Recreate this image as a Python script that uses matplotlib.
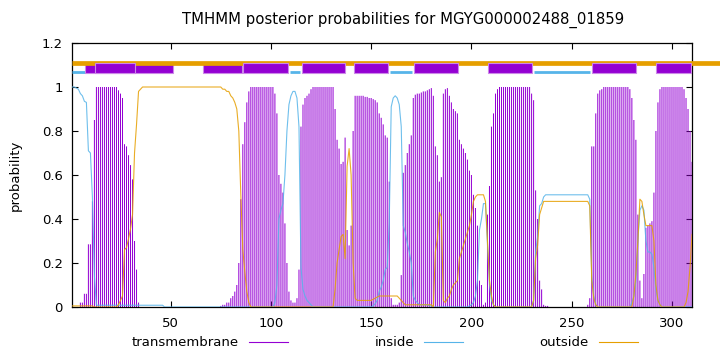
import matplotlib
matplotlib.use("Agg")
import matplotlib.pyplot as plt
from matplotlib.patches import Rectangle
from matplotlib.lines import Line2D

title = "TMHMM posterior probabilities for MGYG000002488_01859"
residues = list(range(1, 311))

# posterior probabilities per residue
transmembrane = [
    0, 0, 0, 0, 0.02, 0.02, 0.06, 0.06, 0.285, 0.285,
    0.48, 0.85, 1, 1, 1, 1, 1, 1, 1, 1,
    1, 1, 1, 0.985, 0.97, 0.95, 0.74, 0.73, 0.69, 0.645,
    0.58, 0.30, 0.17, 0.02, 0, 0, 0, 0, 0, 0,
    0, 0, 0, 0, 0, 0, 0, 0, 0, 0,
    0, 0, 0, 0, 0, 0, 0, 0, 0, 0,
    0, 0, 0, 0, 0, 0, 0, 0, 0, 0,
    0, 0, 0, 0, 0.005, 0.01, 0.01, 0.02, 0.02, 0.04,
    0.05, 0.07, 0.1, 0.2, 0.49, 0.74, 0.84, 0.93, 0.98, 1,
    1, 1, 1, 1, 1, 1, 1, 1, 1, 1,
    1, 0.97, 0.88, 0.6, 0.56, 0.52, 0.38, 0.2, 0.07, 0.03,
    0.02, 0.02, 0.04, 0.17, 0.82, 0.92, 0.95, 0.96, 0.97, 0.99,
    1, 1, 1, 1, 1, 1, 1, 1, 1, 1,
    1, 0.9, 0.76, 0.72, 0.65, 0.66, 0.77, 0.35, 0.28, 0.37,
    0.8, 0.96, 0.96, 0.96, 0.96, 0.96, 0.955, 0.955, 0.95, 0.95,
    0.945, 0.94, 0.93, 0.88, 0.86, 0.83, 0.78, 0.77, 0.57, 0.04,
    0.01, 0.01, 0.01, 0.02, 0.145, 0.61, 0.645, 0.70, 0.74, 0.78,
    0.95, 0.965, 0.97, 0.97, 0.975, 0.98, 0.98, 0.985, 0.99, 0.995,
    0.96, 0.73, 0.69, 0.57, 0.59, 0.97, 0.99, 0.995, 0.96, 0.93,
    0.9, 0.89, 0.88, 0.76, 0.74, 0.72, 0.7, 0.67, 0.62, 0.6,
    0.51, 0.45, 0.37, 0.12, 0.1, 0.01, 0.02, 0.42, 0.55, 0.82,
    0.88, 0.97, 0.99, 1, 1, 1, 1, 1, 1, 1,
    1, 1, 1, 1, 1, 1, 1, 1, 1, 0.97,
    0.94, 0.53, 0.4, 0.12, 0.08, 0.01, 0.005, 0.005, 0, 0,
    0, 0, 0, 0, 0, 0, 0, 0, 0, 0,
    0, 0, 0, 0, 0, 0, 0, 0.01, 0.04, 0.73,
    0.73, 0.88, 0.97, 0.985, 0.99, 1, 1, 1, 1, 1,
    1, 1, 1, 1, 1, 1, 1, 1, 0.99, 0.95,
    0.85, 0.76, 0.42, 0.12, 0.04, 0.15, 0.36, 0.37, 0.38, 0.39,
    0.52, 0.8, 0.93, 0.99, 1, 1, 1, 1, 1, 1,
    1, 1, 1, 1, 1, 0.99, 0.95, 0.9, 0.8, 0.66,
]

inside = [
    1, 1, 0.995, 0.99, 0.97, 0.96, 0.935, 0.93, 0.71, 0.70,
    0.5, 0.14, 0.008, 0.008, 0.008, 0.008, 0.008, 0.008, 0.008, 0.008,
    0.008, 0.008, 0.008, 0.008, 0.008, 0.008, 0.008, 0.008, 0.008, 0.008,
    0.008, 0.008, 0.008, 0.008, 0.008, 0.008, 0.008, 0.008, 0.008, 0.008,
    0.008, 0.008, 0.008, 0.008, 0.008, 0.008, 0, 0, 0, 0,
    0, 0, 0, 0, 0, 0, 0, 0, 0, 0,
    0, 0, 0, 0, 0, 0, 0, 0, 0, 0,
    0, 0, 0, 0, 0, 0, 0, 0, 0, 0,
    0, 0, 0, 0, 0, 0, 0, 0, 0, 0,
    0, 0, 0, 0, 0, 0, 0, 0, 0, 0,
    0, 0.02, 0.1, 0.4, 0.44, 0.47, 0.6, 0.8, 0.92, 0.96,
    0.98, 0.98, 0.95, 0.82, 0.18, 0.08, 0.05, 0.03, 0.02, 0.01,
    0, 0, 0, 0, 0, 0, 0, 0, 0, 0,
    0, 0, 0, 0, 0, 0, 0, 0, 0, 0,
    0, 0, 0, 0, 0, 0, 0, 0, 0, 0,
    0.005, 0.015, 0.03, 0.07, 0.09, 0.12, 0.17, 0.18, 0.38, 0.91,
    0.95, 0.96, 0.95, 0.92, 0.82, 0.37, 0.34, 0.29, 0.25, 0.2,
    0.05, 0.03, 0.02, 0.01, 0.01, 0.01, 0.01, 0.01, 0.005, 0.005,
    0, 0, 0, 0, 0, 0, 0, 0, 0, 0,
    0, 0, 0, 0, 0, 0, 0, 0, 0.005, 0.01,
    0.02, 0.05, 0.12, 0.35, 0.4, 0.47, 0.47, 0.28, 0.1, 0.03,
    0.01, 0, 0, 0, 0, 0, 0, 0, 0, 0,
    0, 0, 0, 0, 0, 0, 0, 0, 0, 0,
    0.03, 0.25, 0.32, 0.46, 0.47, 0.5, 0.51, 0.51, 0.51, 0.51,
    0.51, 0.51, 0.51, 0.51, 0.51, 0.51, 0.51, 0.51, 0.51, 0.51,
    0.51, 0.51, 0.51, 0.51, 0.51, 0.51, 0.51, 0.51, 0.49, 0.14,
    0.05, 0.01, 0, 0, 0, 0, 0, 0, 0, 0,
    0, 0, 0, 0, 0, 0, 0, 0, 0, 0.02,
    0.05, 0.12, 0.3, 0.44, 0.46, 0.44, 0.3, 0.25, 0.25, 0.24,
    0.18, 0.08, 0.03, 0.01, 0, 0, 0, 0, 0, 0,
    0, 0, 0, 0, 0, 0, 0, 0, 0, 0,
]

outside = [
    0.005, 0.005, 0.005, 0.005, 0.005, 0.005, 0.005, 0.005, 0.005, 0.005,
    0.005, 0, 0, 0, 0, 0, 0, 0, 0, 0,
    0, 0, 0, 0.01, 0.03, 0.05, 0.26, 0.27, 0.31, 0.355,
    0.42, 0.7, 0.83, 0.98, 0.99, 1, 1, 1, 1, 1,
    1, 1, 1, 1, 1, 1, 1, 1, 1, 1,
    1, 1, 1, 1, 1, 1, 1, 1, 1, 1,
    1, 1, 1, 1, 1, 1, 1, 1, 1, 1,
    1, 1, 1, 1, 1, 0.99, 0.99, 0.98, 0.98, 0.96,
    0.95, 0.93, 0.9, 0.8, 0.51, 0.26, 0.16, 0.07, 0.02, 0,
    0, 0, 0, 0, 0, 0, 0, 0, 0, 0,
    0, 0, 0, 0, 0, 0, 0, 0, 0, 0,
    0, 0, 0, 0, 0, 0, 0, 0, 0, 0,
    0, 0, 0, 0, 0, 0, 0, 0, 0, 0,
    0, 0.08, 0.2, 0.26, 0.32, 0.33, 0.22, 0.64, 0.72, 0.6,
    0.2, 0.04, 0.03, 0.03, 0.03, 0.03, 0.03, 0.03, 0.03, 0.03,
    0.035, 0.04, 0.045, 0.05, 0.05, 0.05, 0.05, 0.05, 0.05, 0.05,
    0.05, 0.05, 0.05, 0.04, 0.03, 0.02, 0.01, 0.01, 0.01, 0.01,
    0.01, 0.01, 0.01, 0.01, 0.01, 0.01, 0.01, 0.01, 0.01, 0.01,
    0, 0.25, 0.31, 0.43, 0.41, 0.03, 0.02, 0.04, 0.05, 0.08,
    0.1, 0.11, 0.12, 0.22, 0.25, 0.28, 0.31, 0.34, 0.37, 0.42,
    0.48, 0.5, 0.51, 0.51, 0.51, 0.51, 0.48, 0.3, 0.12, 0.05,
    0.01, 0, 0, 0, 0, 0, 0, 0, 0, 0,
    0, 0, 0, 0, 0, 0, 0, 0, 0, 0,
    0.03, 0.22, 0.28, 0.42, 0.45, 0.48, 0.48, 0.48, 0.48, 0.48,
    0.48, 0.48, 0.48, 0.48, 0.48, 0.48, 0.48, 0.48, 0.48, 0.48,
    0.48, 0.48, 0.48, 0.48, 0.48, 0.48, 0.48, 0.48, 0.46, 0.12,
    0.04, 0.01, 0, 0, 0, 0, 0, 0, 0, 0,
    0, 0, 0, 0, 0, 0, 0, 0, 0, 0,
    0.05, 0.15, 0.3, 0.49, 0.48, 0.42, 0.37, 0.37, 0.37, 0.37,
    0.3, 0.1, 0.03, 0.01, 0, 0, 0, 0, 0, 0,
    0, 0, 0, 0, 0, 0, 0.02, 0.07, 0.18, 0.33,
]

# topology bars along the top
tm_boxes_under = [(7.3, 51.3), (66.0, 85.4)]
tm_boxes_over = [(12.2, 32.2), (86.2, 108.3), (115.3, 137.2), (141.2, 158.3),
                 (171.2, 193.2), (208.2, 230.3), (260.0, 282.3), (292.1, 309.4)]
inside_bars = [(1, 12.2), (109.3, 114.3), (159.2, 170.6), (231.0, 259.2)]
outside_bar = (1, 330)

x_ticks = [50, 100, 150, 200, 250, 300]
y_ticks = [0, 0.2, 0.4, 0.6, 0.8, 1.0, 1.2]
y_tick_labels = ["0", "0.2", "0.4", "0.6", "0.8", "1", "1.2"]

c_tm = "#9400d3"
c_in = "#56b4e9"
c_out = "#e69f00"

plt.rcParams["font.family"] = ["DejaVu Sans"]
fig = plt.figure(figsize=(7.2, 3.52), dpi=100)
ax = fig.add_axes([72.36 / 720, 1 - 307 / 352, 619.67 / 720, 264 / 352])

imp = ax.vlines(residues, 0, transmembrane, color=c_tm, lw=0.72, zorder=2)
imp.set_snap(False)
ax.plot(residues, inside, color=c_in, lw=0.8, alpha=0.85, zorder=3)
ax.plot(residues, outside, color=c_out, lw=0.8, alpha=0.85, zorder=4)

for a, b in inside_bars:
    ax.plot([a, b], [1.068, 1.068], color=c_in, lw=2.0, solid_capstyle="butt",
            zorder=5, clip_on=False)
for a, b in tm_boxes_under:
    ax.add_patch(Rectangle((a, 1.062), b - a, 0.049, facecolor=c_tm,
                           edgecolor="#cc88e8", lw=0.8, zorder=6, clip_on=False))
ax.plot(outside_bar, [1.1075, 1.1075], color=c_out, lw=3.4, solid_capstyle="butt",
        zorder=7, clip_on=False)
for a, b in tm_boxes_over:
    ax.add_patch(Rectangle((a, 1.062), b - a, 0.049, facecolor=c_tm,
                           edgecolor="#cc88e8", lw=0.8, zorder=8, clip_on=False))

ax.set_xlim(1, 310)
ax.set_ylim(0, 1.2)
ax.set_xticks(x_ticks)
ax.set_yticks(y_ticks)
ax.set_yticklabels(y_tick_labels)
ax.tick_params(direction="in", top=True, right=True, length=4, width=0.8,
               labelsize=9.5, pad=7)
for s in ax.spines.values():
    s.set_linewidth(0.9)
ax.set_ylabel("probability", fontsize=9.5, labelpad=14)

fig.text(403 / 720, 1 - 20 / 352, title, ha="center", va="center", fontsize=10.7)

legend_items = [("transmembrane", c_tm, 239), ("inside", c_in, 414), ("outside", c_out, 589)]
ly = 1 - 342 / 352
for label, col, xr in legend_items:
    fig.text(xr / 720, ly, label, ha="right", va="center", fontsize=9.5)
    fig.add_artist(Line2D([(xr + 10) / 720, (xr + 49) / 720], [ly, ly],
                          color=col, lw=0.8, transform=fig.transFigure))

fig.savefig("out.png", dpi=100)
